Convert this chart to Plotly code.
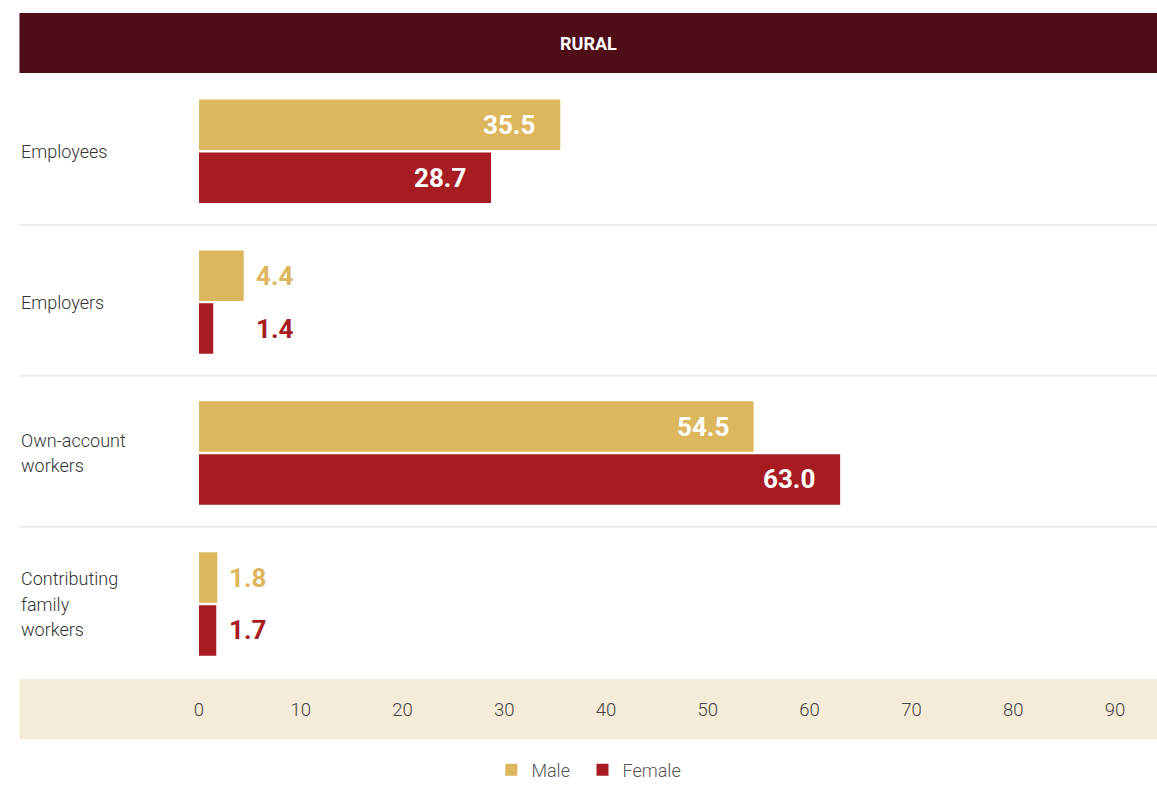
import plotly.graph_objects as go

# ---- data ----
categories = ["Employees", "Employers", "Own-account workers", "Contributing family workers"]
category_lines = [["Employees"], ["Employers"], ["Own-account", "workers"], ["Contributing", "family", "workers"]]
male = [35.5, 4.4, 54.5, 1.8]
female = [28.7, 1.4, 63.0, 1.7]
tick_vals = [0, 10, 20, 30, 40, 50, 60, 70, 80, 90]
title_text = "RURAL"

# ---- style ----
W, H = 1157, 789
MALE_C = "#dcb75e"
FEMALE_C = "#a61c22"
HEADER_C = "#4f0e17"
BAND_C = "#f4ebd8"
FONT = "Roboto"

def px_x(p):
    return p / W

def px_y(p):
    return 1 - p / H

left_edge = 14.5
plot_left, plot_right = 194.8, 1157
px_per_unit = 10.222
plot_top, plot_bottom = 75.7, 679.5

fig = go.Figure()
fig.add_trace(go.Bar(y=categories, x=male, orientation="h", name="Male", legend="legend",
                     marker=dict(color=MALE_C, line=dict(width=0)), hoverinfo="x+name"))
fig.add_trace(go.Bar(y=categories, x=female, orientation="h", name="Female", legend="legend2",
                     marker=dict(color=FEMALE_C, line=dict(width=0)), hoverinfo="x+name"))

annotations = []
for i, cat in enumerate(categories):
    pair_max = max(male[i], female[i])
    for vals, col, off in ((male, MALE_C, -0.175), (female, FEMALE_C, 0.175)):
        v = vals[i]
        if v > 10:
            annotations.append(dict(x=v, y=i + off, xref="x", yref="y", text=f"{v:.1f}",
                                    xanchor="right", yanchor="middle", xshift=-23, showarrow=False,
                                    font=dict(family=FONT, size=26, color="white", weight="bold")))
        else:
            annotations.append(dict(x=pair_max, y=i + off, xref="x", yref="y", text=f"{v:.1f}",
                                    xanchor="left", yanchor="middle", xshift=10, showarrow=False,
                                    font=dict(family=FONT, size=26, color=col, weight="bold")))
    lines = category_lines[i]
    n = len(lines)
    for j, ln in enumerate(lines):
        annotations.append(dict(x=px_x(left_edge), y=i, xref="paper", yref="y", text=ln,
                                xanchor="left", yanchor="middle", yshift=-(j - (n - 1) / 2) * 25.5,
                                showarrow=False, font=dict(family=FONT, size=18, color="#333333", weight=300)))

annotations.append(dict(x=px_x((left_edge + 1157) / 2), y=px_y(43.5), xref="paper", yref="paper", text=title_text,
                        xanchor="center", yanchor="middle", showarrow=False,
                        font=dict(family=FONT, size=18, color="white", weight="bold")))

shapes = [
    dict(type="rect", xref="paper", yref="paper", x0=px_x(left_edge), x1=px_x(1157), y0=px_y(73), y1=px_y(13),
         fillcolor=HEADER_C, line=dict(width=0), layer="below"),
    dict(type="rect", xref="paper", yref="paper", x0=px_x(left_edge), x1=px_x(1157), y0=px_y(739), y1=px_y(679),
         fillcolor=BAND_C, line=dict(width=0), layer="below"),
]
for k in range(len(categories) - 1):
    shapes.append(dict(type="line", xref="paper", yref="y", x0=px_x(left_edge), x1=px_x(1157),
                       y0=k + 0.5 - 0.011, y1=k + 0.5 - 0.011, line=dict(color="#dcdcdc", width=1)))

legend_style = dict(orientation="h", xanchor="left", y=px_y(770), yanchor="middle",
                    font=dict(family=FONT, size=18, color="#555555", weight=300),
                    itemclick=False, itemdoubleclick=False, bgcolor="rgba(0,0,0,0)")

fig.update_layout(
    width=W, height=H,
    margin=dict(l=0, r=0, t=0, b=0),
    paper_bgcolor="white", plot_bgcolor="rgba(0,0,0,0)",
    barmode="group", bargap=0.298, bargroupgap=0.047,
    font=dict(family=FONT, size=18, color="#444444"),
    showlegend=True,
    legend=dict(x=px_x(488.5), **legend_style),
    legend2=dict(x=px_x(580), **legend_style),
    annotations=annotations,
    shapes=shapes,
    xaxis=dict(domain=[px_x(plot_left), px_x(plot_right)], range=[0, (plot_right - plot_left) / px_per_unit],
               tickvals=tick_vals, ticks="", showgrid=False, zeroline=False, showline=False,
               ticklabelstandoff=17, tickfont=dict(family=FONT, size=18.5, color="#444444", weight=300),
               fixedrange=True),
    yaxis=dict(domain=[px_y(plot_bottom), px_y(plot_top)], autorange="reversed",
               showticklabels=False, ticks="", showgrid=False, zeroline=False, showline=False, fixedrange=True),
)

fig.write_html("out.html", config={"displayModeBar": False},
               post_script="document.body.style.margin='0';document.body.style.overflow='hidden';")
